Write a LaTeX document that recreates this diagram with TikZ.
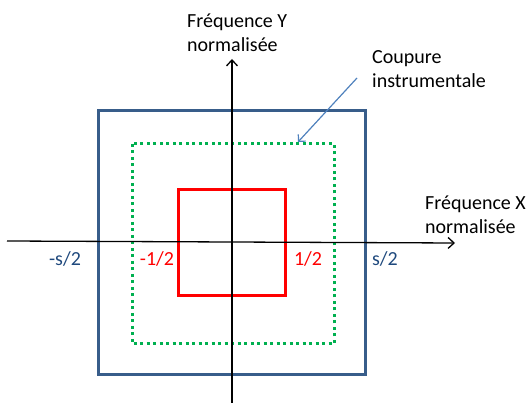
\documentclass[tikz,border=0pt]{standalone}
\usepackage{fontspec}
\setmainfont{Carlito}
\usetikzlibrary{arrows.meta}
\definecolor{bord}{RGB}{56,93,138}
\definecolor{lab}{RGB}{31,73,125}
\definecolor{arr}{RGB}{79,129,189}
\definecolor{grn}{RGB}{0,176,80}
\tikzset{
  px/.style={x=1pt,y=-1pt},
  axis/.style={line width=1.3pt,-{Straight Barb[length=6pt,width=11pt,line width=1.3pt]}},
  txt/.style={font=\fontsize{20}{24}\selectfont,inner sep=0pt,align=left,anchor=base west},
  tick/.style={font=\fontsize{20}{24}\selectfont,inner sep=0pt,anchor=base}
}
\begin{document}
\begin{tikzpicture}[px]
\useasboundingbox (0,0) rectangle (531,403);
% squares
\draw[bord,line width=3pt] (98,111) rectangle (365,375);
\draw[grn,line width=3pt,dash pattern=on 3pt off 3.5pt] (132,144) rectangle (334,344);
\draw[red,line width=3pt] (178,190) rectangle (285,296);
% axes
\coordinate (xs) at (7,241);
\coordinate (xe) at (455,243);
\coordinate (ys) at (232,403);
\coordinate (ye) at (232,59);
\draw[axis] (xs) -- (xe);
\draw[axis] (ys) -- (ye);
% labels (anchor = baseline of the last line)
\node[txt] (ylab) at (187,52) {Fréquence Y\\normalisée};
\node[txt] (xlab) at (425,234) {Fréquence X\\normalisée};
\node[txt] (cut) at (372,88) {Coupure\\instrumentale};
\coordinate (cs) at (357,78);
\coordinate (ce) at (298,142);
\draw[arr,line width=1.2pt,-{Straight Barb[length=5pt,width=10pt,line width=1.2pt]}] (cs) -- (ce);
\node[tick,lab] (ms) at (65,266) {-s/2};
\node[tick,red] (mh) at (157,266) {-1/2};
\node[tick,red] (ph) at (308,266) {1/2};
\node[tick,lab] (ps) at (385,266) {s/2};
\end{tikzpicture}
\end{document}
